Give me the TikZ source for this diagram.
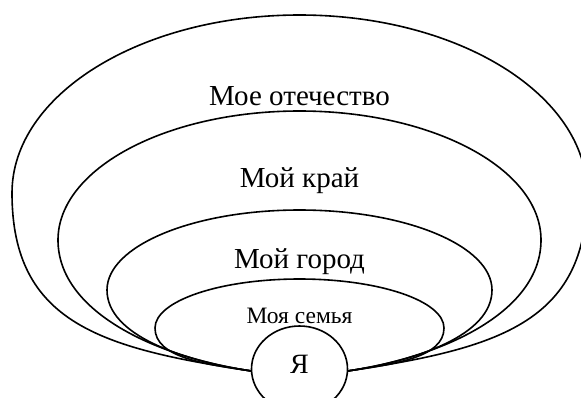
\documentclass[tikz,border=0pt]{standalone}
\usepackage{fontspec}
\setmainfont{Liberation Serif}
\usetikzlibrary{shapes.geometric}
\begin{document}
\begin{tikzpicture}[x=1pt,y=-1pt,
  ring/.style={line width=1.6pt},
  lbl/.style={anchor=base, inner sep=0pt, font=\fontsize{29}{34}\selectfont},
  meshape/.style={draw, ellipse, fill=white, line width=1.6pt, minimum width=96pt, minimum height=86pt, inner sep=0pt}]
\useasboundingbox (0,0) rectangle (581,397);
\clip (0,0) rectangle (581,397);
\def\cx{299.5}
\foreach \ha/\tp/\ye/\kk/\dd in {287.5/15/193/130/150, 241.5/111/240/70/100, 192.5/210/290/45/70, 144.5/279/328/30/45} {
  \draw[ring] ({\cx-48},371) .. controls ({\cx-48-\dd},{371-0.15*\dd}) and ({\cx-\ha},{\ye+\kk}) .. ({\cx-\ha},\ye)
    .. controls ({\cx-\ha},{\ye-0.5523*(\ye-\tp)}) and ({\cx-0.5523*\ha},\tp) .. (\cx,\tp)
    .. controls ({\cx+0.5523*\ha},\tp) and ({\cx+\ha},{\ye-0.5523*(\ye-\tp)}) .. ({\cx+\ha},\ye)
    .. controls ({\cx+\ha},{\ye+\kk}) and ({\cx+48+\dd},{371-0.15*\dd}) .. ({\cx+48},371);
}
\node[meshape] (me) at (\cx,369) {};
\node[lbl] (t1) at (\cx,105) {Мое отечество};
\node[lbl] (t2) at (\cx,187) {Мой край};
\node[lbl] (t3) at (\cx,268) {Мой город};
\node[lbl, font=\fontsize{23.5}{28}\selectfont] (t4) at (\cx,323) {Моя семья};
\node[lbl, font=\fontsize{28}{32}\selectfont] (t5) at (\cx,373) {Я};
\end{tikzpicture}
\end{document}
